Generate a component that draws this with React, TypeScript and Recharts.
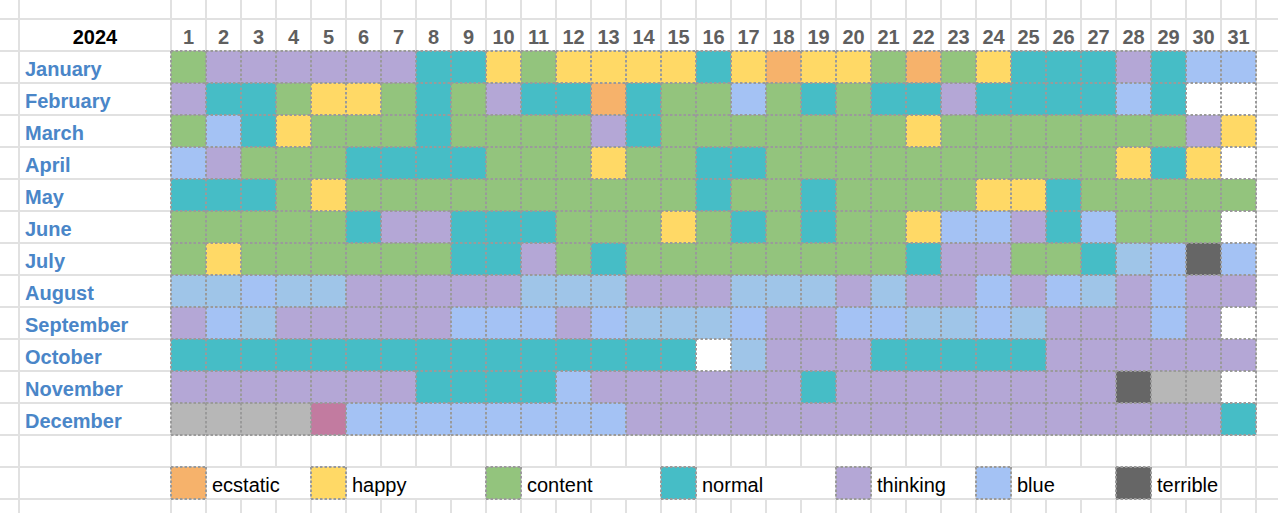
import { CartesianGrid, Scatter, ScatterChart, XAxis, YAxis } from "recharts";

const CHART_W = 1278;
const CHART_H = 513;
const CELL_W = 35;
const CELL_H = 32;

// x is measured in day columns (day d sits on x = d), y in sheet rows
// (0 = header row, 1..12 = months, 14 = legend row)
const X_MIN = -153.5 / CELL_W;
const X_MAX = (CHART_W - 153.5) / CELL_W;
const Y_MIN = -35 / CELL_H;
const Y_MAX = (CHART_H - 35) / CELL_H;
const LABEL_COL = 0.5 - 152 / CELL_W; // left edge of the month-name column
const LEGEND_ROW = 14;

const FONT = "'Liberation Sans', Arial, sans-serif";

const year = "2024";

const monthNames = [
  "January",
  "February",
  "March",
  "April",
  "May",
  "June",
  "July",
  "August",
  "September",
  "October",
  "November",
  "December",
];

const dayLabels = [
  1, 2, 3, 4, 5, 6, 7, 8, 9, 10, 11, 12, 13, 14, 15, 16, 17, 18, 19, 20, 21, 22, 23, 24, 25, 26, 27, 28,
  29, 30, 31,
];

const moodNames = ["ecstatic", "happy", "content", "normal", "thinking", "blue", "terrible"];
const legendCols = [1, 5, 10, 15, 20, 24, 28];

// E ecstatic, H happy, C content, N normal, T thinking, B blue, X terrible
// L light blue, G grey, P pink, - nothing logged
const codeColors: Record<string, string> = {
  E: "#F6B26B",
  H: "#FFD966",
  C: "#93C47D",
  N: "#46BDC6",
  T: "#B4A7D6",
  B: "#A4C2F4",
  X: "#666666",
  L: "#9FC5E8",
  G: "#B7B7B7",
  P: "#C27BA0",
  "-": "#FFFFFF",
};
const moodCodes = ["E", "H", "C", "N", "T", "B", "X"];

const january = ["C", "T", "T", "T", "T", "T", "T", "N", "N", "H", "C", "H", "H", "H", "H", "N", "H", "E", "H", "H", "C", "E", "C", "H", "N", "N", "N", "T", "N", "B", "B"];
const february = ["T", "N", "N", "C", "H", "H", "C", "N", "C", "T", "N", "N", "E", "N", "C", "C", "B", "C", "N", "C", "N", "N", "T", "N", "N", "N", "N", "B", "N", "-", "-"];
const march = ["C", "B", "N", "H", "C", "C", "C", "N", "C", "C", "C", "C", "T", "N", "C", "C", "C", "C", "C", "C", "C", "H", "C", "C", "C", "C", "C", "C", "C", "T", "H"];
const april = ["B", "T", "C", "C", "C", "N", "N", "N", "N", "C", "C", "C", "H", "C", "C", "N", "N", "C", "C", "C", "C", "C", "C", "C", "C", "C", "C", "H", "N", "H", "-"];
const may = ["N", "N", "N", "C", "H", "C", "C", "C", "C", "C", "C", "C", "C", "C", "C", "N", "C", "C", "N", "C", "C", "C", "C", "H", "H", "N", "C", "C", "C", "C", "C"];
const june = ["C", "C", "C", "C", "C", "N", "T", "T", "N", "N", "N", "C", "C", "C", "H", "C", "N", "C", "N", "C", "C", "H", "B", "B", "T", "N", "B", "C", "C", "C", "-"];
const july = ["C", "H", "C", "C", "C", "C", "C", "C", "N", "N", "T", "C", "N", "C", "C", "C", "C", "C", "C", "C", "C", "N", "T", "T", "C", "C", "N", "L", "B", "X", "B"];
const august = ["L", "L", "B", "L", "L", "T", "T", "T", "T", "T", "L", "L", "L", "T", "T", "T", "L", "L", "L", "T", "L", "T", "T", "B", "T", "B", "L", "T", "B", "T", "T"];
const september = ["T", "B", "L", "T", "T", "T", "T", "T", "B", "B", "B", "T", "B", "L", "L", "L", "B", "T", "T", "B", "B", "L", "L", "B", "L", "T", "T", "T", "B", "T", "-"];
const october = ["N", "N", "N", "N", "N", "N", "N", "N", "N", "N", "N", "N", "N", "N", "N", "-", "L", "T", "T", "T", "N", "N", "N", "N", "N", "T", "T", "T", "T", "T", "T"];
const november = ["T", "T", "T", "T", "T", "T", "T", "N", "N", "N", "N", "B", "T", "T", "T", "T", "T", "T", "N", "T", "T", "T", "T", "T", "T", "T", "T", "X", "G", "G", "-"];
const december = ["G", "G", "G", "G", "P", "B", "B", "B", "B", "B", "B", "B", "B", "T", "T", "T", "T", "T", "T", "T", "T", "T", "T", "T", "T", "T", "T", "T", "T", "T", "N"];

const monthRows = [january, february, march, april, may, june, july, august, september, october, november, december];

const cells = monthRows.flatMap((row, m) =>
  row.map((code, i) => ({ x: i + 1, y: m + 1, code }))
);
const monthPoints = monthNames.map((name, m) => ({ x: LABEL_COL, y: m + 1, name }));
const dayPoints = dayLabels.map((d) => ({ x: d, y: 0, label: String(d) }));
const yearPoints = [{ x: (LABEL_COL + 0.5) / 2, y: 0, label: year }];
const legendPoints = moodNames.map((name, i) => ({
  x: legendCols[i],
  y: LEGEND_ROW,
  name,
  code: moodCodes[i],
  span: i < legendCols.length - 1 ? legendCols[i + 1] - legendCols[i] - 1 : 2,
}));

// spreadsheet gridlines sit on cell boundaries
const gridX = [LABEL_COL, ...dayLabels.map((d) => d - 0.5), dayLabels.length + 0.5];
const gridY = [-0.5, ...monthNames.map((_, m) => m + 0.5), 12.5, 13.5, 14.5];

function toPixel(scale: any, v: number, min: number, max: number, start: number, size: number) {
  if (typeof scale === "function") return scale(v);
  return start + ((v - min) / (max - min)) * size;
}

const dotted = { stroke: "#9A9A9A", strokeWidth: 2, strokeDasharray: "2.5 2" };

function DayCell(props: any) {
  const { cx, cy, payload } = props;
  const x = cx - CELL_W / 2;
  const y = cy - CELL_H / 2;
  return (
    <g>
      <rect x={x} y={y} width={CELL_W} height={CELL_H} fill={codeColors[payload.code]} />
      <line x1={x} y1={y} x2={x + CELL_W} y2={y} {...dotted} />
      <line x1={x} y1={y} x2={x} y2={y + CELL_H} {...dotted} />
      {payload.x === 31 && <line x1={x + CELL_W} y1={y} x2={x + CELL_W} y2={y + CELL_H} {...dotted} />}
      {payload.y === 12 && <line x1={x} y1={y + CELL_H} x2={x + CELL_W} y2={y + CELL_H} {...dotted} />}
    </g>
  );
}

function MonthLabel(props: any) {
  const { cx, cy, payload } = props;
  return (
    <text x={cx + 6} y={cy + 9} fill="#4A86C8" fontSize={20} fontWeight="bold" fontFamily={FONT}>
      {payload.name}
    </text>
  );
}

function HeaderLabel(props: any) {
  const { cx, cy, payload } = props;
  const isYear = payload.label === year;
  return (
    <text
      x={cx}
      y={cy + 9}
      textAnchor="middle"
      fill={isYear ? "#000000" : "#5F5F5F"}
      fontSize={20}
      fontWeight="bold"
      fontFamily={FONT}
    >
      {payload.label}
    </text>
  );
}

function LegendItem(props: any) {
  const { cx, cy, payload } = props;
  const x = cx - CELL_W / 2;
  const y = cy - CELL_H / 2;
  return (
    <g>
      {/* the label overflows into the next cells and hides their gridlines */}
      <rect x={x + CELL_W + 1} y={y + 1} width={payload.span * CELL_W - 2} height={CELL_H - 2} fill="#FFFFFF" />
      <rect x={x} y={y} width={CELL_W} height={CELL_H} fill={codeColors[payload.code]} />
      <line x1={x} y1={y} x2={x + CELL_W} y2={y} {...dotted} />
      <line x1={x + CELL_W} y1={y} x2={x + CELL_W} y2={y + CELL_H} {...dotted} />
      <line x1={x} y1={y + CELL_H} x2={x + CELL_W} y2={y + CELL_H} {...dotted} />
      <line x1={x} y1={y} x2={x} y2={y + CELL_H} {...dotted} />
      <text x={x + CELL_W + 6} y={cy + 9} fill="#000000" fontSize={20} fontFamily={FONT}>
        {payload.name}
      </text>
    </g>
  );
}

export default function App() {
  return (
    <div style={{ width: CHART_W, height: CHART_H, overflow: "hidden", background: "#fff" }}>
      <style>{"html,body{margin:0;padding:0;overflow:hidden;}"}</style>
      <ScatterChart width={CHART_W} height={CHART_H} margin={{ top: 0, right: 0, bottom: 0, left: 0 }}>
        <XAxis type="number" dataKey="x" domain={[X_MIN, X_MAX]} allowDataOverflow hide />
        <YAxis type="number" dataKey="y" domain={[Y_MIN, Y_MAX]} allowDataOverflow reversed hide />
        <CartesianGrid
          stroke="#E1E1E1"
          strokeWidth={2}
          verticalCoordinatesGenerator={({ xAxis, offset }: any) =>
            gridX.map((v) => toPixel(xAxis?.scale, v, X_MIN, X_MAX, offset.left, offset.width))
          }
          horizontalCoordinatesGenerator={({ yAxis, offset }: any) =>
            gridY.map((v) => toPixel(yAxis?.scale, v, Y_MIN, Y_MAX, offset.top, offset.height))
          }
        />
        <Scatter data={cells} shape={DayCell} isAnimationActive={false} />
        <Scatter data={monthPoints} shape={MonthLabel} isAnimationActive={false} />
        <Scatter data={dayPoints} shape={HeaderLabel} isAnimationActive={false} />
        <Scatter data={yearPoints} shape={HeaderLabel} isAnimationActive={false} />
        <Scatter data={legendPoints} shape={LegendItem} isAnimationActive={false} />
      </ScatterChart>
    </div>
  );
}
